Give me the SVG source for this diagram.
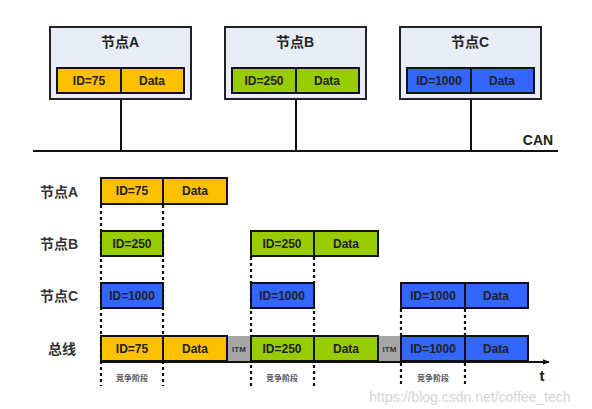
<svg xmlns="http://www.w3.org/2000/svg" width="592" height="409" viewBox="0 0 592 409">
<defs>
<style>
.frame{fill:#E9EEF6;stroke:#222;stroke-width:2}
.y{fill:#FFC000;stroke:#111;stroke-width:2}
.g{fill:#99CC00;stroke:#111;stroke-width:2}
.b{fill:#3366FF;stroke:#111;stroke-width:2}
.itm{fill:#A6A6A6}
.ln{stroke:#111;stroke-width:2;fill:none}
.dot{stroke:#111;stroke-width:2.2;stroke-dasharray:3 3;fill:none}
.t{font-family:"Liberation Sans","Noto Sans CJK SC",sans-serif;font-weight:bold;fill:#222;text-anchor:middle}
.bt{font-size:12px}
.title{font-size:14px}
.lab{font-family:"Liberation Sans","Noto Sans CJK SC",sans-serif;font-size:14px;font-weight:bold;fill:#333}
.small{font-family:"Noto Sans CJK SC",sans-serif;font-size:8px;fill:#555;text-anchor:middle;font-weight:bold}
</style>
<marker id="arr" viewBox="0 0 10 10" refX="9" refY="5" markerWidth="7" markerHeight="7" orient="auto" markerUnits="userSpaceOnUse">
<path d="M0,1 L10,5 L0,9 z" fill="#111"/>
</marker>
</defs>
<rect width="592" height="409" fill="#fff"/>

<g id="connectors">
<line class="ln" x1="33" y1="151" x2="558" y2="151"/>
<line class="ln" x1="121" y1="93" x2="121" y2="151"/>
<line class="ln" x1="296" y1="93" x2="296" y2="151"/>
<line class="ln" x1="471" y1="93" x2="471" y2="151"/>
<line class="dot" x1="101" y1="205" x2="101" y2="386"/>
<line class="dot" x1="163" y1="205" x2="163" y2="386"/>
<line class="dot" x1="251" y1="257" x2="251" y2="386"/>
<line class="dot" x1="314" y1="257" x2="314" y2="386"/>
<line class="dot" x1="401" y1="309" x2="401" y2="386"/>
<line class="dot" x1="465" y1="309" x2="465" y2="386"/>
<line class="ln" x1="100" y1="362" x2="549" y2="362" marker-end="url(#arr)"/>
</g>

<g id="nodeA">
<rect class="frame" x="50" y="27" width="141" height="72"/>
<text class="t title" x="120" y="47">节点A</text>
<rect class="y" x="57" y="68" width="64" height="25"/>
<rect class="y" x="121" y="68" width="63" height="25"/>
<text class="t bt" x="89" y="85">ID=75</text>
<text class="t bt" x="152" y="85">Data</text>
</g>
<g id="nodeB">
<rect class="frame" x="225" y="27" width="141" height="72"/>
<text class="t title" x="295" y="47">节点B</text>
<rect class="g" x="232" y="68" width="64" height="25"/>
<rect class="g" x="296" y="68" width="63" height="25"/>
<text class="t bt" x="264" y="85">ID=250</text>
<text class="t bt" x="327" y="85">Data</text>
</g>
<g id="nodeC">
<rect class="frame" x="400" y="27" width="141" height="72"/>
<text class="t title" x="470" y="47">节点C</text>
<rect class="b" x="407" y="68" width="64" height="25"/>
<rect class="b" x="471" y="68" width="63" height="25"/>
<text class="t bt" x="439" y="85">ID=1000</text>
<text class="t bt" x="502" y="85">Data</text>
</g>
<text class="t" x="538" y="145" style="font-size:14px">CAN</text>

<g id="rowA">
<text class="lab" x="40" y="197">节点A</text>
<rect class="y" x="101" y="178" width="62" height="26"/>
<rect class="y" x="163" y="178" width="64" height="26"/>
<text class="t bt" x="132" y="195">ID=75</text>
<text class="t bt" x="195" y="195">Data</text>
</g>
<g id="rowB">
<text class="lab" x="40" y="249">节点B</text>
<rect class="g" x="101" y="231" width="62" height="25"/>
<text class="t bt" x="132" y="248">ID=250</text>
<rect class="g" x="251" y="231" width="63" height="25"/>
<rect class="g" x="314" y="231" width="64" height="25"/>
<text class="t bt" x="282" y="248">ID=250</text>
<text class="t bt" x="346" y="248">Data</text>
</g>
<g id="rowC">
<text class="lab" x="40" y="301">节点C</text>
<rect class="b" x="101" y="283" width="62" height="25"/>
<text class="t bt" x="132" y="300">ID=1000</text>
<rect class="b" x="251" y="283" width="63" height="25"/>
<text class="t bt" x="282" y="300">ID=1000</text>
<rect class="b" x="401" y="283" width="64" height="25"/>
<rect class="b" x="465" y="283" width="63" height="25"/>
<text class="t bt" x="433" y="300">ID=1000</text>
<text class="t bt" x="496" y="300">Data</text>
</g>
<g id="bus">
<text class="lab" x="48" y="354">总线</text>
<rect class="itm" x="227" y="336" width="24" height="25"/>
<rect class="itm" x="378" y="336" width="23" height="25"/>
<text class="t" x="239" y="352" style="font-size:8px;fill:#333">ITM</text>
<text class="t" x="389.5" y="352" style="font-size:8px;fill:#333">ITM</text>
<rect class="y" x="101" y="336" width="62" height="25"/>
<rect class="y" x="163" y="336" width="64" height="25"/>
<text class="t bt" x="132" y="353">ID=75</text>
<text class="t bt" x="195" y="353">Data</text>
<rect class="g" x="251" y="336" width="63" height="25"/>
<rect class="g" x="314" y="336" width="64" height="25"/>
<text class="t bt" x="282" y="353">ID=250</text>
<text class="t bt" x="346" y="353">Data</text>
<rect class="b" x="401" y="336" width="64" height="25"/>
<rect class="b" x="465" y="336" width="63" height="25"/>
<text class="t bt" x="433" y="353">ID=1000</text>
<text class="t bt" x="496" y="353">Data</text>
<text class="small" x="132" y="381">竞争阶段</text>
<text class="small" x="282" y="381">竞争阶段</text>
<text class="small" x="433" y="381">竞争阶段</text>
<text class="t" x="542" y="381" style="font-size:15px">t</text>
</g>
<text x="470" y="402" style="font-family:'Liberation Sans',sans-serif;font-size:14px;fill:#d4d4d4;text-anchor:middle">https://blog.csdn.net/coffee_tech</text>
</svg>
